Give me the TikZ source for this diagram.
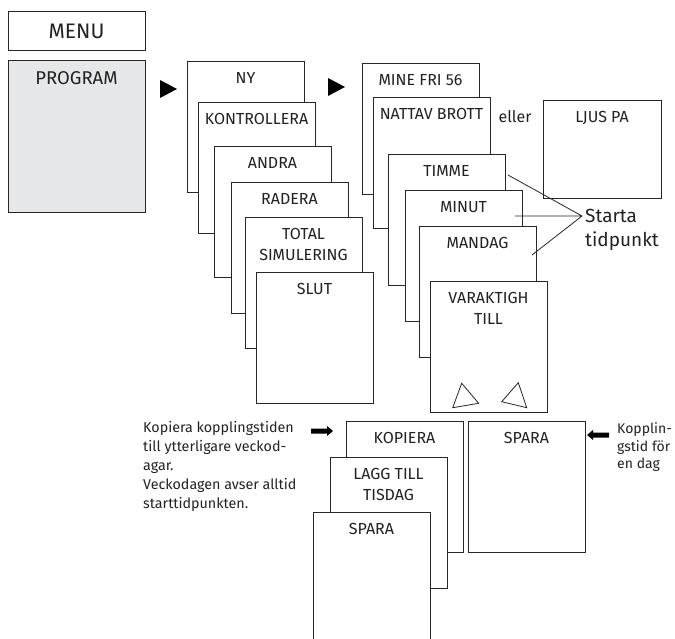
\documentclass[tikz,border=0pt]{standalone}
\usepackage{fontspec}
\setmainfont{Fira Sans}
\definecolor{linec}{HTML}{262626}
\definecolor{textc}{HTML}{222222}
\definecolor{progfill}{HTML}{E6E7E8}
\begin{document}
\begin{tikzpicture}[x=1pt,y=-1pt,
  card/.style={draw=linec, fill=white, line width=0.9pt, minimum width=117pt,
    minimum height=131pt, anchor=north west, inner sep=0pt, outer sep=0pt},
  lbl/.style={anchor=north, inner sep=0pt, align=center, text=textc,
    font=\fontsize{16}{21}\selectfont},
  note/.style={anchor=north west, inner sep=0pt, align=left, text=textc,
    font=\fontsize{14.3}{19}\selectfont},
  tri/.style={draw=linec, fill=white, line width=0.8pt, line join=miter},
  blk/.style={fill=black, draw=none},
  conn/.style={draw=linec, line width=0.8pt}]
\useasboundingbox (0,0) rectangle (675,639);

% MENU and PROGRAM
\node[card, minimum width=137pt, minimum height=39pt] (menu) at (8,11) {};
\node[lbl, anchor=center, font=\fontsize{21}{24}\selectfont] (menuT) at (76.5,31) {MENU};
\node[card, minimum width=137pt, minimum height=152pt, fill=progfill] (prog) at (8,60) {};
\node[lbl, font=\fontsize{18.5}{22}\selectfont] (progT) at ([yshift=-11pt]prog.north) {PROGRAM};

% arrows
\path[blk] (160,80) -- (160,98) -- (177,89) -- cycle;
\path[blk] (328,78) -- (328,96) -- (345,87) -- cycle;

% first stack
\node[card] (ny) at (187,61) {};
\node[lbl] (nyT) at ([yshift=-11.5pt]ny.north) {NY};
\node[card] (kon) at (198,102) {};
\node[lbl] (konT) at ([yshift=-11.5pt]kon.north) {KONTROLLERA};
\node[card] (andra) at (214,146) {};
\node[lbl] (andraT) at ([yshift=-11.5pt]andra.north) {ANDRA};
\node[card] (rad) at (231,182) {};
\node[lbl] (radT) at ([yshift=-11.5pt]rad.north) {RADERA};
\node[card] (tot) at (245,217) {};
\node[lbl] (totT) at ([yshift=-11.5pt]tot.north) {TOTAL\\SIMULERING};
\node[card] (slut) at (256,272) {};
\node[lbl] (slutT) at ([yshift=-11.5pt]slut.north) {SLUT};

% second stack
\node[card] (mine) at (362,63) {};
\node[lbl] (mineT) at ([yshift=-11.5pt]mine.north) {MINE FRI 56};
\node[card] (natt) at (373,97) {};
\node[lbl] (nattT) at ([yshift=-11.5pt]natt.north) {NATTAV BROTT};
\node[card, minimum width=118pt, minimum height=98pt] (ljus) at (543,100) {};
\node[lbl] (ljusT) at ([yshift=-11.5pt]ljus.north) {LJUS PA};
\node[lbl, anchor=center, font=\fontsize{16}{20}\selectfont] (eller) at (515,117) {eller};
\node[card] (timme) at (388,154) {};
\node[lbl] (timmeT) at ([yshift=-11.5pt]timme.north) {TIMME};
\node[card] (minut) at (405,190) {};
\node[lbl] (minutT) at ([yshift=-11.5pt]minut.north) {MINUT};
\node[card] (mandag) at (419,226) {};
\node[lbl] (mandagT) at ([yshift=-11.5pt]mandag.north) {MANDAG};
\node[card] (var) at (430,281) {};
\node[lbl] (varT) at ([yshift=-11.5pt]var.north) {VARAKTIGH\\TILL};
\path[tri] (452.7,407.7) -- (478.7,403.3) -- (461.7,383.3) -- cycle;
\path[tri] (501.7,401.7) -- (526.7,407.7) -- (518.3,382.7) -- cycle;

% Starta tidpunkt
\coordinate (sp) at (582,216);
\coordinate (c1) at (508,175);
\coordinate (c2) at (515,216);
\coordinate (c3) at (532,255);
\draw[conn] (c1) -- (sp) -- (c3) (c2) -- (sp);
\node[lbl, anchor=north west, align=left, font=\fontsize{19}{24}\selectfont] (starta) at (585,208.5) {Starta\\tidpunkt};

% bottom
\node[note] (noteL) at (143,421.5) {Kopiera kopplingstiden\\till ytterligare veckod-\\agar.\\Veckodagen avser alltid\\starttidpunkten.};
\path[blk] (311,428.5) -- (327,428.5) -- (327,426) -- (333,431) -- (327,436) -- (327,433.5) -- (311,433.5) -- cycle;
\node[card] (kop) at (346,421) {};
\node[lbl] (kopT) at ([yshift=-11.5pt]kop.north) {KOPIERA};
\node[card] (lagg) at (330,457) {};
\node[lbl] (laggT) at ([yshift=-11.5pt]lagg.north) {LAGG TILL\\TISDAG};
\node[card] (sparaL) at (313,512) {};
\node[lbl] (sparaLT) at ([yshift=-11.5pt]sparaL.north) {SPARA};
\node[card] (sparaR) at (468,421) {};
\node[lbl] (sparaRT) at ([yshift=-11.5pt]sparaR.north) {SPARA};
\path[blk] (609,432.5) -- (593,432.5) -- (593,430) -- (587,435) -- (593,440) -- (593,437.5) -- (609,437.5) -- cycle;
\node[note, font=\fontsize{14}{17.5}\selectfont] (noteR) at (617,422.5) {Kopplin-\\gstid för\\en dag};
\end{tikzpicture}
\end{document}
